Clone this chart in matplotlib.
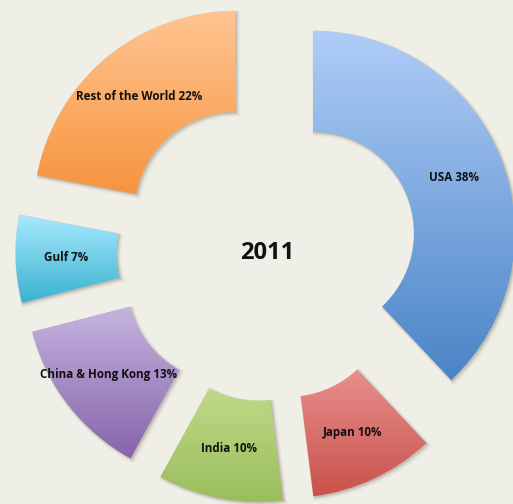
import numpy as np
import matplotlib
matplotlib.use('Agg')
import matplotlib.pyplot as plt
from matplotlib.colors import to_rgb
from matplotlib.patches import Wedge

# market share by region, clockwise from 12 o'clock
regions = ['USA', 'Japan', 'India', 'China & Hong Kong', 'Gulf', 'Rest of the World']
shares = [38, 10, 10, 13, 7, 22]
top_colors = ['#b0cdf8', '#f9b5b3', '#dcf0ab', '#d0c2e8', '#a8e9fd', '#ffc593']
bottom_colors = ['#4a84c6', '#c9514b', '#9abd5b', '#8664aa', '#3ab2d0', '#f58f35']
year = '2011'

bg = '#f0efe7'
plt.rcParams['font.family'] = ['Open Sans', 'DejaVu Sans']

fig = plt.figure(figsize=(5.13, 5.04), dpi=100, facecolor=bg)
ax = fig.add_axes([0, 0, 1, 1])
ax.set_facecolor(bg)
ax.axis('off')

wedges, _, autotexts = ax.pie(shares, startangle=90, counterclock=False,
                              explode=[0.245] * len(shares), radius=1.0,
                              autopct='%d%%', pctdistance=0.75,
                              wedgeprops=dict(width=0.5, linewidth=0))

for w, name, pct, c_top, c_bot in zip(wedges, regions, shares, top_colors, bottom_colors):
    # soft drop shadow under each slice
    cx, cy = w.center
    for k, (off, a) in enumerate([(0.004, 0.10), (0.008, 0.08), (0.012, 0.05)]):
        sh = Wedge((cx + off, cy - off), w.r, w.theta1, w.theta2, width=w.width,
                   facecolor='#6b6458', edgecolor='#6b6458', linewidth=1.5 + k,
                   alpha=a, zorder=0.5)
        ax.add_patch(sh)

    # vertical gradient clipped to the slice
    verts = w.get_path().vertices
    x0, x1 = verts[:, 0].min(), verts[:, 0].max()
    y0, y1 = verts[:, 1].min(), verts[:, 1].max()
    t = np.linspace(0, 1, 256)[:, None]
    grad = (1 - t) * np.array(to_rgb(c_top)) + t * np.array(to_rgb(c_bot))
    im = ax.imshow(grad[:, None, :], extent=[x0, x1, y0, y1], origin='upper',
                   aspect='auto', interpolation='bilinear', zorder=1)
    im.set_clip_path(w)
    w.set_facecolor('none')
    w.set_zorder(2)

for txt, name, pct in zip(autotexts, regions, shares):
    txt.set_text('%s %d%%' % (name, pct))
    txt.set_fontsize(8.4)
    txt.set_fontweight('bold')
    txt.set_color('#111111')
    txt.set_zorder(3)

ax.text(0, -0.01, year, ha='center', va='center', fontsize=17, fontweight='bold',
        color='#111111', zorder=3)

ax.set_xlim(-1.322, 1.218)
ax.set_ylim(-1.252, 1.243)
ax.set_aspect('auto')

fig.savefig('out.png', dpi=100, facecolor=bg)
